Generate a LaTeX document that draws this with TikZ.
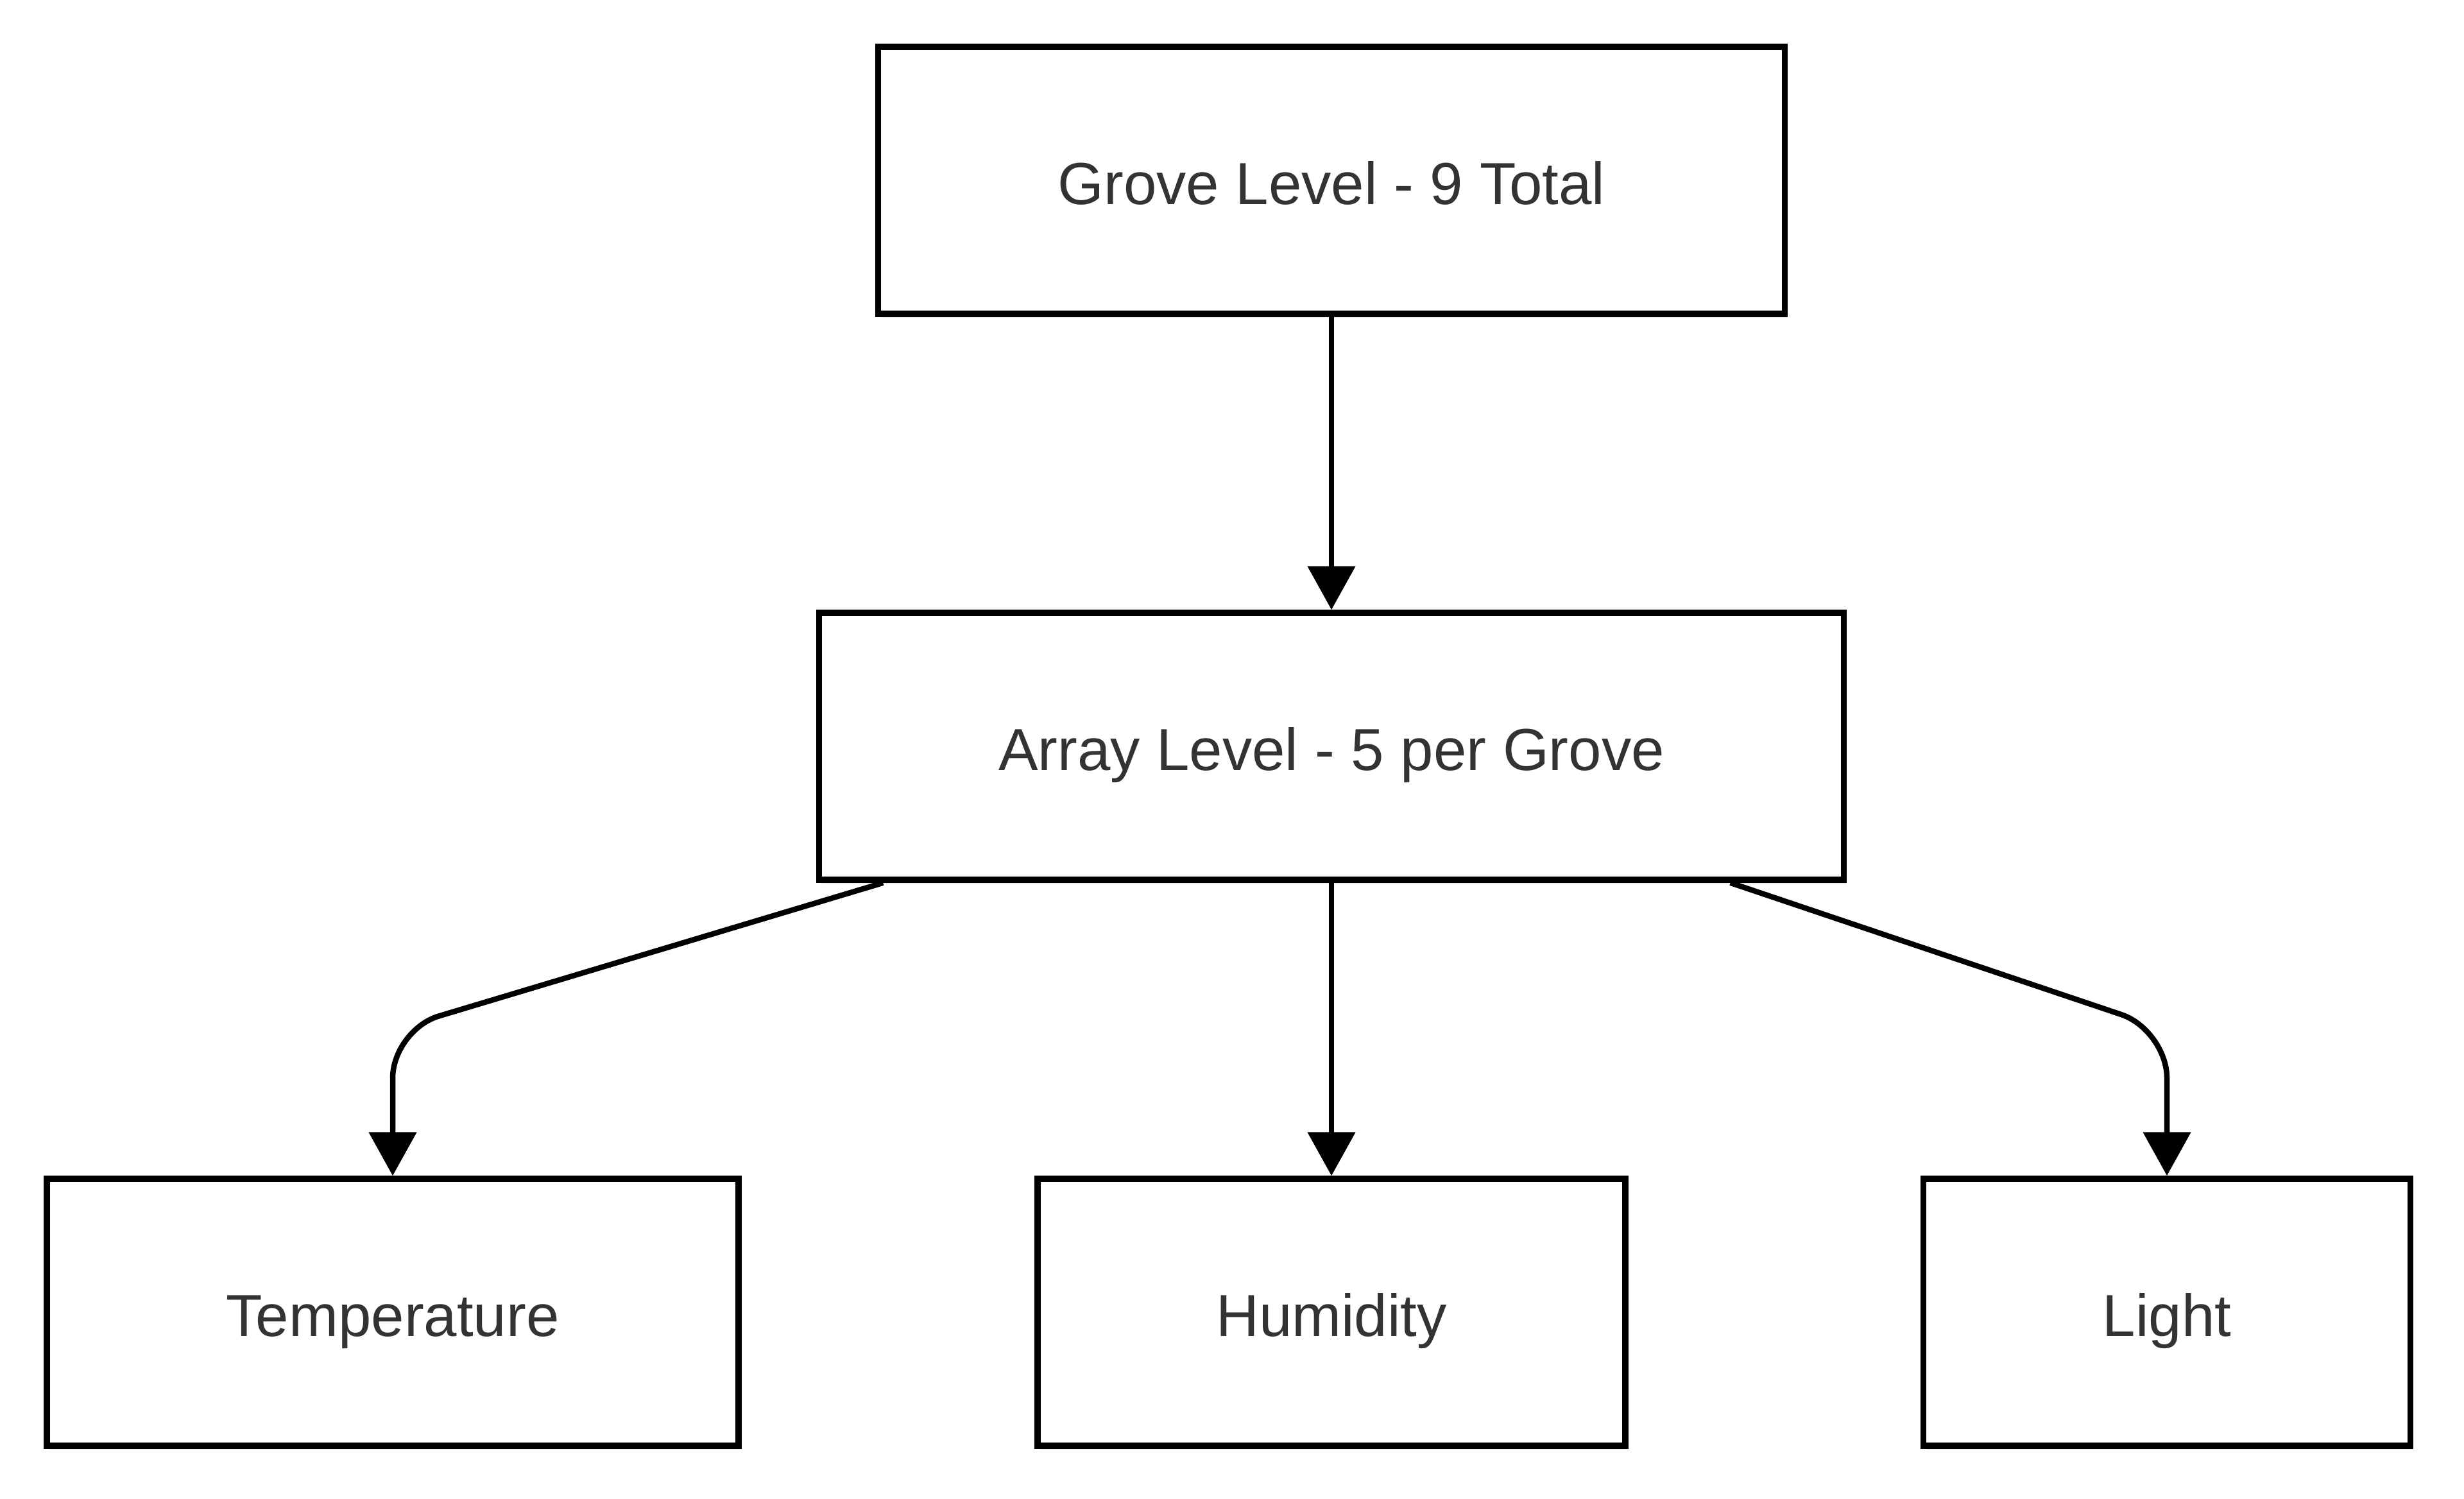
\documentclass[tikz,border=0pt]{standalone}
\usepackage{fontspec}
\setmainfont{Liberation Sans}
\usepackage{tikz}
\usetikzlibrary{arrows.meta}
\usetikzlibrary{calc}
\usetikzlibrary{shadows}
\tikzset{blk/.style = {draw, line width = 0.095cm, fill = white, text = txtgray,
    minimum height = 4.16cm, inner sep = 0, text height = 0.75cm, text depth = 0cm,
    font = \fontsize{26.3pt}{31pt}\selectfont,
    drop shadow = {shadow xshift = 0.04cm, shadow yshift = -0.07cm, opacity = 0.12}}}
\tikzset{lnk/.style = {line width = 0.085cm, rounded corners = 0.75cm,
    -{Triangle[length = 0.68cm, width = 0.73cm]}}}
\definecolor{txtgray}{RGB}{51, 51, 51}

\begin{document}
\begin{tikzpicture}

       \useasboundingbox (0, 0) rectangle (38.4, -23.36);

       \node [blk, minimum width = 14.13cm] (grove) at (20.75, -2.81) {Grove Level - 9 Total};
       \node [blk, minimum width = 15.97cm] (array) at (20.75, -11.63) {Array Level - 5 per Grove};
       \node [blk, minimum width = 10.78cm] (temp) at (6.12, -20.45) {Temperature};
       \node [blk, minimum width = 9.16cm] (hum) at (20.75, -20.45) {Humidity};
       \node [blk, minimum width = 7.59cm] (light) at (33.77, -20.45) {Light};

       \coordinate (tbend) at (6.12, -16.05);
       \coordinate (lbend) at (33.77, -16.05);

       \draw [lnk] (grove) -- (array);
       \draw [lnk] ($(array.south west)!0.065!(array.south east)$) -- (tbend) -- (temp.north);
       \draw [lnk] (array) -- (hum);
       \draw [lnk] ($(array.south west)!0.887!(array.south east)$) -- (lbend) -- (light.north);
    \end{tikzpicture}
\end{document}
